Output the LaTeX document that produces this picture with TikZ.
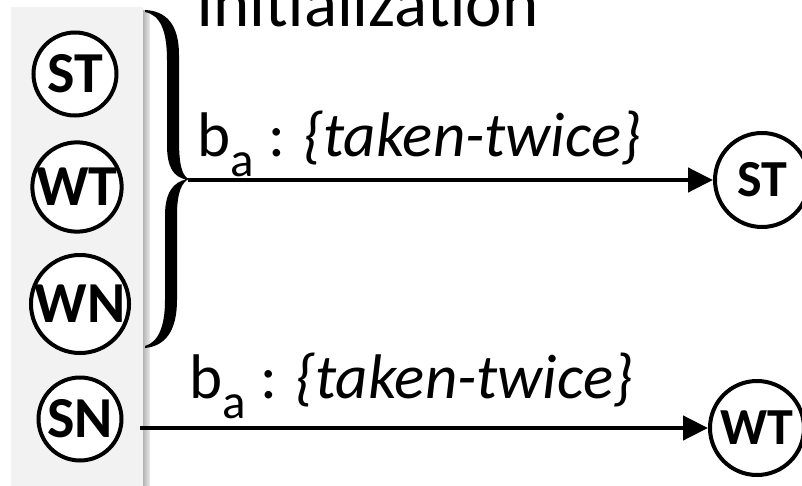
\documentclass[tikz,border=0pt]{standalone}
\usepackage{fontspec}
\setmainfont{Carlito}
\usetikzlibrary{arrows.meta}
\definecolor{panelgray}{RGB}{242,242,242}
\definecolor{shadowdark}{RGB}{180,180,180}
\definecolor{shadowlight}{RGB}{236,236,236}
\newcommand{\transitionlabel}{b\raisebox{-20pt}{\fontsize{49}{49}\selectfont a} : \textit{\{taken-twice\}}}
\begin{document}
\begin{tikzpicture}[x=1pt,y=-1pt,
  state/.style={circle,draw,line width=4pt,fill=white,inner sep=0pt,
    minimum size=83pt,font=\fontsize{58}{58}\selectfont\bfseries},
  bigstate/.style={state,minimum size=94pt,font=\fontsize{52}{52}\selectfont\bfseries},
  labeltext/.style={anchor=base west,inner sep=0pt,font=\fontsize{63}{63}\selectfont},
  transition/.style={line width=4.5pt,-{Triangle[length=25pt,width=24pt]}},
]
\clip (0,0) rectangle (802,486);
\fill[white] (0,0) rectangle (802,486);

% panel holding the initial states, with its drop shadow
\fill[panelgray] (11,7) rectangle (143,486);
\shade[left color=shadowdark,right color=shadowlight] (143,11) rectangle (150,486);

% initial states
\node[state] (st0) at (75,74)  {ST};
\node[state] (wt0) at (77,187) {WT};
\node[state] (wn0) at (80,304) {WN};
\node[state] (sn0) at (80,419) {SN};

% curly brace grouping ST, WT and WN
\fill (145,10) .. controls (166,11) and (179,24) .. (179,55)
  -- (179,140) .. controls (179,165) and (182,176) .. (189,179)
  .. controls (182,182) and (177,192) .. (177,215)
  -- (177,300) .. controls (177,330) and (166,346) .. (145,348)
  -- (145,346) .. controls (159,342) and (165,325) .. (165,300)
  -- (165,215) .. controls (165,192) and (174,182) .. (186,179.5)
  .. controls (174,177) and (167,168) .. (167,145)
  -- (167,60) .. controls (167,30) and (160,15) .. (145,12) -- cycle;
\coordinate (bracetip) at (188,180);

\node[labeltext] (init) at (196,27) {\fontsize{69}{69}\selectfont Initialization};

% next states
\node[bigstate] (st1) at (762,180) {ST};
\node[bigstate] (wt1) at (757,428) {WT};

\coordinate (snout) at (140,428);

\node[labeltext] (lab1) at (197,157) {\transitionlabel};
\node[labeltext] (lab2) at (189,398) {\transitionlabel};

\draw[transition] (bracetip) -- (st1);
\draw[transition] (snout) -- (wt1);
\end{tikzpicture}
\end{document}
